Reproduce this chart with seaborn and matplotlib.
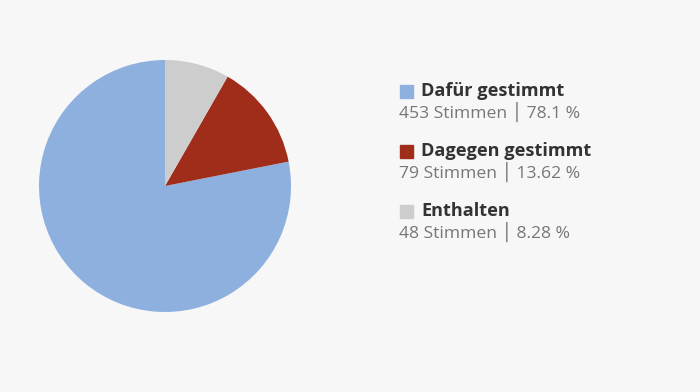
import matplotlib
matplotlib.use("Agg")
import matplotlib.pyplot as plt
import seaborn as sns

# data
labels = ["Dafür gestimmt", "Dagegen gestimmt", "Enthalten"]
votes = [453, 79, 48]
percents = ["78.1", "13.62", "8.28"]
colors = ["#8EB0DF", "#A02C1A", "#CDCDCD"]

bg = "#F7F7F7"
sns.set_theme(style="white", rc={"figure.facecolor": bg, "axes.facecolor": bg})
plt.rcParams["font.family"] = ["Open Sans", "DejaVu Sans"]

fig = plt.figure(figsize=(7, 3.92), dpi=100)

# pie
ax = fig.add_axes([39 / 700, (392 - 312) / 392, 252 / 700, 252 / 392])
ax.pie(votes, colors=colors, startangle=90, counterclock=True,
       wedgeprops={"linewidth": 0})
ax.set_xlim(-1, 1)
ax.set_ylim(-1, 1)
ax.set_aspect("equal")
ax.axis("off")

# legend as text
for i, (lab, v, p, c) in enumerate(zip(labels, votes, percents, colors)):
    y = 91 + i * 60
    fig.patches.append(plt.Rectangle((400 / 700, 1 - (y + 6.5) / 392), 13 / 700, 13 / 392,
                                     transform=fig.transFigure, color=c, figure=fig))
    fig.text(421 / 700, 1 - y / 392, lab, fontsize=13.1, fontweight="bold",
             color="#333333", va="center", ha="left")
    fig.text(399 / 700, 1 - (y + 21) / 392, f"{v} Stimmen │ {p} %", fontsize=12.6,
             color="#777777", va="center", ha="left")

fig.savefig("out.png", dpi=100, facecolor=bg)
